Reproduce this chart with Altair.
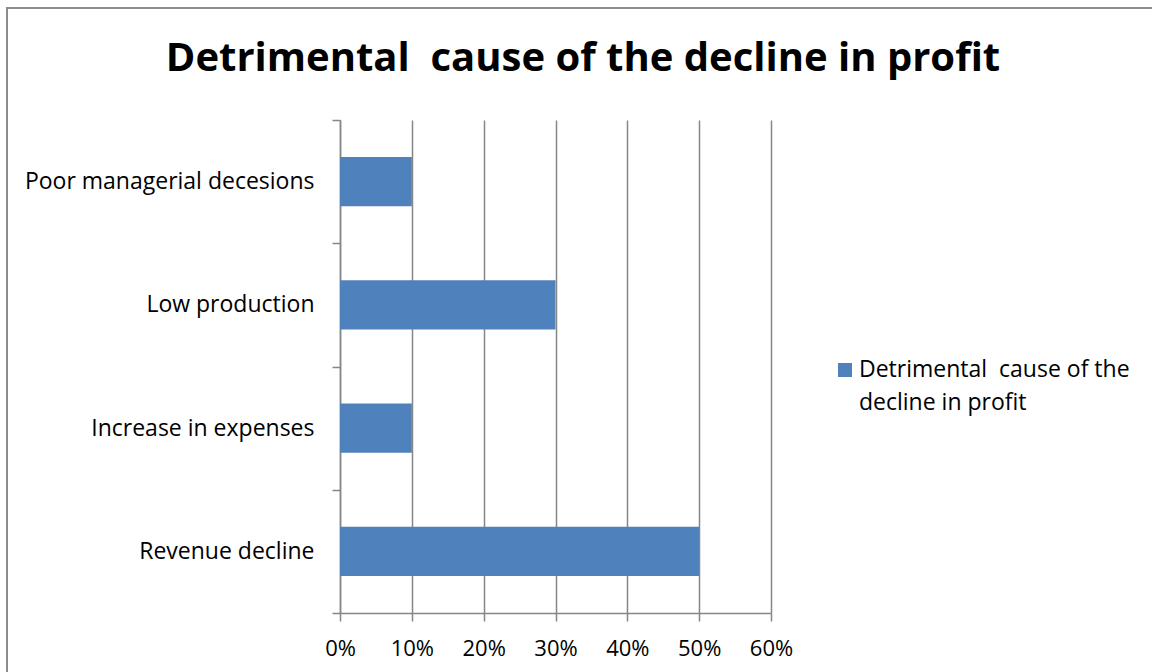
import altair as alt
import pandas as pd

# Causes and the share of respondents naming each one
causes = [
    "Poor managerial decesions",
    "Low production",
    "Increase in expenses",
    "Revenue decline",
]
shares = [0.10, 0.30, 0.10, 0.50]
series_name = "Detrimental\u00a0 cause of the decline in profit"
legend_lines = ["Detrimental\u00a0 cause of the", "decline in profit"]
chart_title = "Detrimental\u00a0 cause of the decline in profit"
x_ticks = [0, 0.1, 0.2, 0.3, 0.4, 0.5, 0.6]

df = pd.DataFrame({"cause": causes, "share": shares, "series": series_name})
one_row = pd.DataFrame({"series": [series_name]})

FONT = "Open Sans"
GRID = "#868686"
BAR = "#4F81BD"
LABEL_SIZE = 23

W, H = 431, 493
LEFT, TOP = 340, 120

series_color = alt.Color("series:N", scale=alt.Scale(range=[BAR]), legend=None)

bars = alt.Chart(df).mark_bar(height=alt.RelativeBandSize(0.4)).encode(
    x=alt.X(
        "share:Q",
        scale=alt.Scale(domain=[0, 0.6], nice=False),
        axis=alt.Axis(
            values=x_ticks,
            format=".0%",
            title=None,
            grid=True,
            gridColor=GRID,
            gridWidth=1.5,
            domainColor=GRID,
            domainWidth=1.5,
            tickColor=GRID,
            tickWidth=1.5,
            tickSize=8,
            labelFont=FONT,
            labelFontSize=22,
            labelColor="#000000",
            labelPadding=17,
            labelFlush=False,
            labelOverlap=False,
        ),
    ),
    y=alt.Y(
        "cause:N",
        sort=causes,
        scale=alt.Scale(paddingInner=0, paddingOuter=0),
        axis=alt.Axis(
            title=None,
            grid=False,
            tickBand="extent",
            domainColor=GRID,
            domainWidth=1.5,
            tickColor=GRID,
            tickWidth=1.5,
            tickSize=8,
            labelFont=FONT,
            labelFontSize=LABEL_SIZE,
            labelColor="#000000",
            labelPadding=18,
            labelLimit=330,
        ),
    ),
    color=series_color,
)

# Series key on the right: a square swatch with a two-line label
key_swatch = alt.Chart(one_row).mark_square(size=196, opacity=1).encode(
    color=series_color,
    x=alt.value(845 - LEFT),
    y=alt.value(370 - TOP),
)
key_label = alt.Chart(one_row).mark_text(
    text=legend_lines,
    font=FONT,
    fontSize=LABEL_SIZE,
    lineHeight=33,
    color="#000000",
    align="left",
    baseline="alphabetic",
).encode(
    x=alt.value(859 - LEFT),
    y=alt.value(377 - TOP),
)

# Chart heading, centred above the plot
heading = alt.Chart(one_row).mark_text(
    text=chart_title,
    font=FONT,
    fontSize=40,
    fontWeight="bold",
    color="#000000",
    align="center",
    baseline="middle",
).encode(
    x=alt.value(583 - LEFT),
    y=alt.value(59 - TOP),
)

# Outer frame around the whole chart area
frame = alt.Chart(one_row).mark_rect(
    fill=None, stroke="#8c8c8c", strokeWidth=2
).encode(
    x=alt.value(7 - LEFT),
    x2=alt.value(1170 - LEFT),
    y=alt.value(8 - TOP),
    y2=alt.value(690 - TOP),
)

chart = (
    alt.layer(frame, heading, bars, key_swatch, key_label)
    .properties(
        width=W,
        height=H,
        autosize=alt.AutoSizeParams(type="none"),
        padding={"left": LEFT, "top": TOP, "right": 1152 - LEFT - W, "bottom": 672 - TOP - H},
    )
    .configure_view(stroke=None)
)

chart.save("out.html", embed_options={"renderer": "svg", "actions": False})
